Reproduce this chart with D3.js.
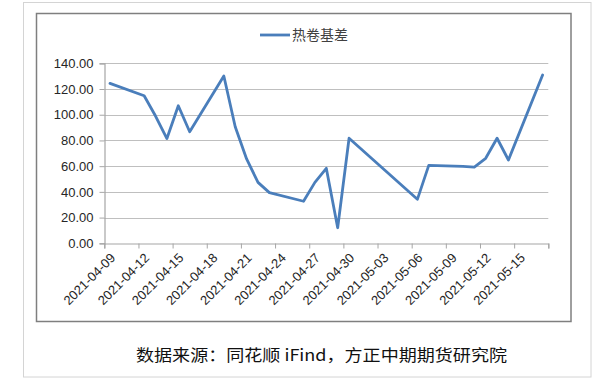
<!DOCTYPE html>
<html>
<head>
<meta charset="utf-8">
<script src="https://cdn.jsdelivr.net/npm/d3@7"></script>
<style>
  html, body { margin: 0; padding: 0; background: #fff; }
  svg { display: block; }
</style>
</head>
<body>
<svg id="chart" width="602" height="384"></svg>
<script>
// ---- data ----
const seriesName = "热卷基差";
const dates = ["2021-04-09","2021-04-12","2021-04-13","2021-04-14","2021-04-15","2021-04-16",
  "2021-04-19","2021-04-20","2021-04-21","2021-04-22","2021-04-23",
  "2021-04-26","2021-04-27","2021-04-28","2021-04-29","2021-04-30",
  "2021-05-06","2021-05-07","2021-05-10","2021-05-11","2021-05-12","2021-05-13","2021-05-14",
  "2021-05-17"];
const values = [124.4,114.8,99.0,81.5,107.0,86.8,
  130.1,90.7,65.6,47.4,39.4,
  32.7,47.4,58.3,12.1,81.7,
  34.2,60.6,59.8,59.3,66.1,81.7,64.8,
  130.9];
const yTicks = [0,20,40,60,80,100,120,140];
const xTickLabels = ["2021-04-09","2021-04-12","2021-04-15","2021-04-18","2021-04-21","2021-04-24",
  "2021-04-27","2021-04-30","2021-05-03","2021-05-06","2021-05-09","2021-05-12","2021-05-15"];
const xDomain = ["2021-04-09","2021-05-18"];
const sourceText = "数据来源：同花顺 iFind，方正中期期货研究院";

// ---- drawing ----
const svg = d3.select("#chart");
const parse = d3.utcParse("%Y-%m-%d");
const x = d3.scaleUtc().domain(xDomain.map(parse)).range([104.3, 548.3]);
const y = d3.scaleLinear().domain([0, 140]).range([243.3, 63.3]);
const halfDay = 12 * 3600 * 1000;

// outer frame
svg.append("rect").attr("x", 23.5).attr("y", 2.5).attr("width", 567.5).attr("height", 374.5)
  .attr("fill", "#fff").attr("stroke", "#d4d4d4").attr("stroke-width", 1);
// inner chart frame
svg.append("rect").attr("x", 36.5).attr("y", 13.5).attr("width", 534.5).attr("height", 308)
  .attr("fill", "#fff").attr("stroke", "#7f7f7f").attr("stroke-width", 1.5);

// gridlines
svg.append("g").selectAll("line").data(yTicks.filter(d => d > 0)).join("line")
  .attr("x1", x.range()[0]).attr("x2", x.range()[1])
  .attr("y1", d => Math.round(y(d)) + 0.5).attr("y2", d => Math.round(y(d)) + 0.5)
  .attr("stroke", "#bfbfbf").attr("stroke-width", 1.2);

// y axis
const yAxis = d3.axisLeft(y).tickValues(yTicks).tickSize(5).tickPadding(6)
  .tickFormat(d => d3.format(".2f")(d));
const gy = svg.append("g").attr("transform", `translate(${Math.round(x.range()[0]) + 0.5},0)`).call(yAxis);
gy.select(".domain").attr("stroke", "#a6a6a6").attr("stroke-width", 1.2);
gy.selectAll(".tick line").attr("stroke", "#a6a6a6");
gy.selectAll(".tick text").attr("font-family", "Liberation Sans, Arial, sans-serif")
  .attr("font-size", 13).attr("fill", "#262626");

// x axis
const labelSet = new Set(xTickLabels);
const fmt = d3.utcFormat("%Y-%m-%d");
const xAxis = d3.axisBottom(x)
  .tickValues(d3.range(0, 14).map(i => d3.utcDay.offset(parse(xDomain[0]), i * 3)))
  .tickSize(5).tickFormat(d => labelSet.has(fmt(d)) ? fmt(d) : "");
const gx = svg.append("g").attr("transform", `translate(0,${Math.round(y(0)) + 0.5})`).call(xAxis);
gx.select(".domain").attr("stroke", "#a6a6a6").attr("stroke-width", 1.2);
gx.selectAll(".tick line").attr("stroke", "#a6a6a6");
gx.selectAll(".tick text")
  .attr("font-family", "Liberation Sans, Arial, sans-serif").attr("font-size", 13).attr("fill", "#262626")
  .attr("text-anchor", "end").attr("dy", "0.35em").attr("y", 0)
  .attr("transform", "translate(8,12) rotate(-45)");

// line
const line = d3.line()
  .x((d, i) => x(new Date(parse(dates[i]).getTime() + halfDay)))
  .y(d => y(d));
svg.append("path").datum(values).attr("d", line)
  .attr("fill", "none").attr("stroke", "#4a7ebb").attr("stroke-width", 2.8)
  .attr("stroke-linejoin", "round").attr("stroke-linecap", "round");

// legend
svg.append("line").attr("x1", 260).attr("x2", 290).attr("y1", 35).attr("y2", 35)
  .attr("stroke", "#4a7ebb").attr("stroke-width", 2.8);
svg.append("text").attr("x", 292).attr("y", 35).attr("dy", "0.36em")
  .attr("font-family", "Noto Sans CJK SC, sans-serif").attr("font-size", 14).attr("fill", "#404040")
  .text(seriesName);

// source note
svg.append("text").attr("x", 136).attr("y", 355).attr("dy", "0.36em")
  .attr("font-family", "Noto Sans CJK SC, sans-serif").attr("font-size", 16).attr("fill", "#111")
  .attr("textLength", 371).attr("lengthAdjust", "spacingAndGlyphs")
  .text(sourceText);
</script>
</body>
</html>
